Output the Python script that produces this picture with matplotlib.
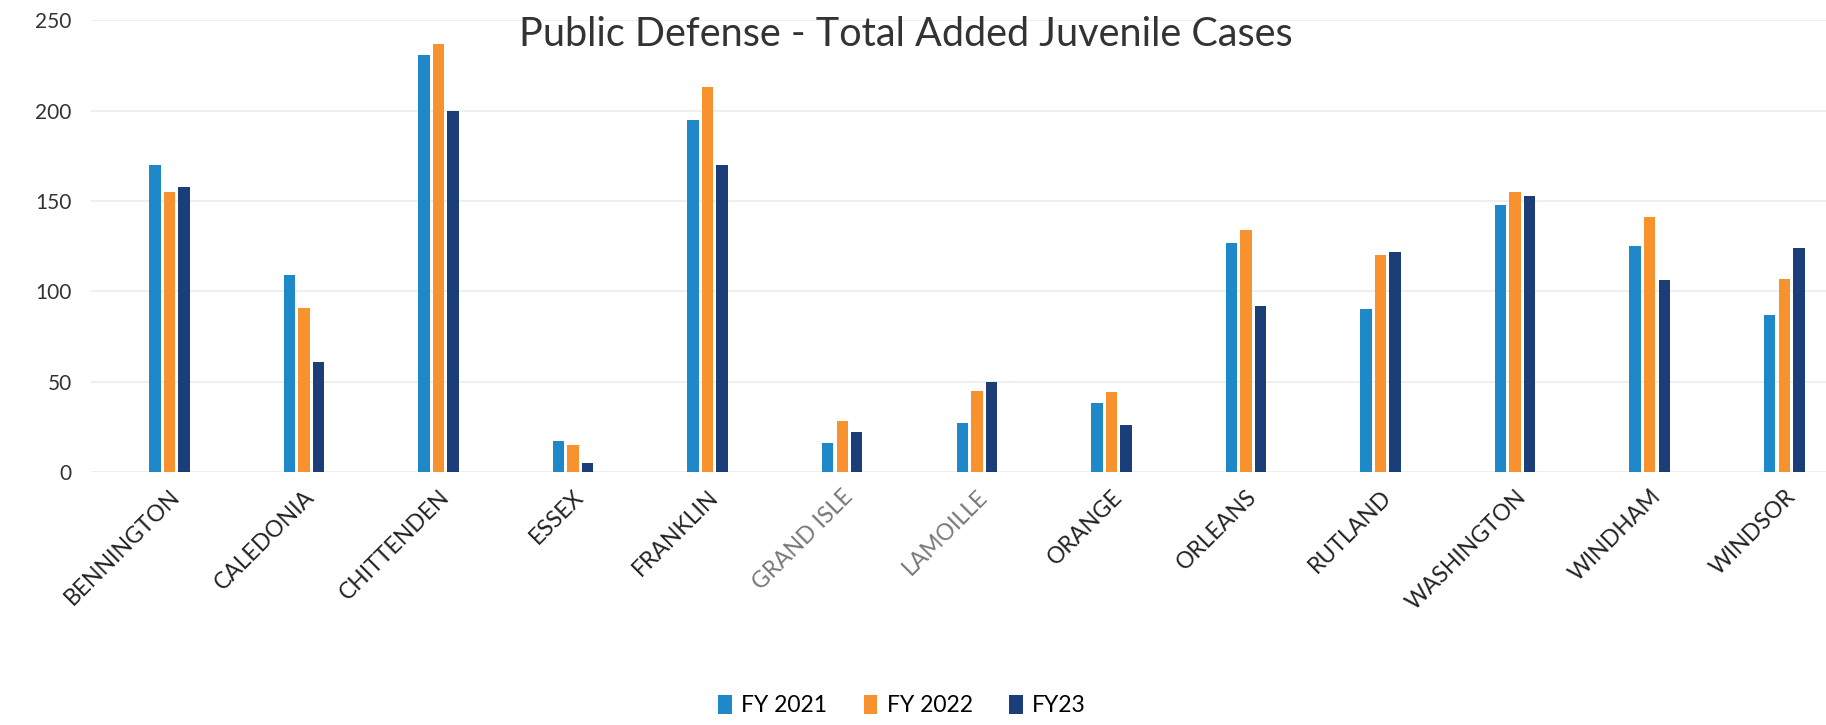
import numpy as np
import matplotlib
matplotlib.use("Agg")
import matplotlib.pyplot as plt

# county names and values
counties = ["BENNINGTON", "CALEDONIA", "CHITTENDEN", "ESSEX", "FRANKLIN",
            "GRAND ISLE", "LAMOILLE", "ORANGE", "ORLEANS", "RUTLAND",
            "WASHINGTON", "WINDHAM", "WINDSOR"]
fy2021 = [170, 109, 231, 17, 195, 16, 27, 38, 127, 90, 148, 125, 87]
fy2022 = [155, 91, 237, 15, 213, 28, 45, 44, 134, 120, 155, 141, 107]
fy23 = [158, 61, 200, 5, 170, 22, 50, 26, 92, 122, 153, 106, 124]
series_names = ["FY 2021", "FY 2022", "FY23"]
colors = ["#1f88c8", "#f7922f", "#1c3e78"]

plt.rcParams['font.family'] = ['Lato', 'DejaVu Sans']

fig = plt.figure(figsize=(18.26, 7.25), dpi=100)
ax = fig.add_axes([0.05, 0.349, 0.95, 0.623])

x = np.arange(len(counties))
width = 0.085
offset = 0.108
bars = []
for i, (vals, name, col) in enumerate(zip([fy2021, fy2022, fy23], series_names, colors)):
    b = ax.bar(x + (i - 1) * offset, vals, width=width, color=col, label=name, zorder=3)
    bars.append(b)

ax.set_xlim(-0.58, 12.31)
ax.set_ylim(0, 250)
ax.set_yticks([0, 50, 100, 150, 200, 250])
ax.grid(axis='y', color='#ececec', linewidth=1.2, zorder=0)
for s in ax.spines.values():
    s.set_visible(False)
ax.tick_params(axis='y', length=0, pad=14, labelsize=15, labelcolor='#333333')
ax.tick_params(axis='x', length=0, pad=10, labelsize=16.5)

ax.set_xticks(x)
ax.set_xticklabels(counties, rotation=45, ha='right', rotation_mode='anchor')
for lbl in ax.get_xticklabels():
    if lbl.get_text() in ("GRAND ISLE", "LAMOILLE"):
        lbl.set_color('#777777')
    else:
        lbl.set_color('#222222')

fig.text(0.496, 0.952, "Public Defense - Total Added Juvenile Cases",
         ha='center', va='center', fontsize=28.5, color='#333333')

fig.legend(handles=bars, labels=series_names, loc='center', ncol=3,
           bbox_to_anchor=(0.494, 0.027), frameon=False, fontsize=16.5,
           handlelength=0.6, handleheight=0.9, handletextpad=0.4, columnspacing=1.6)

fig.savefig("out.png", dpi=100)
